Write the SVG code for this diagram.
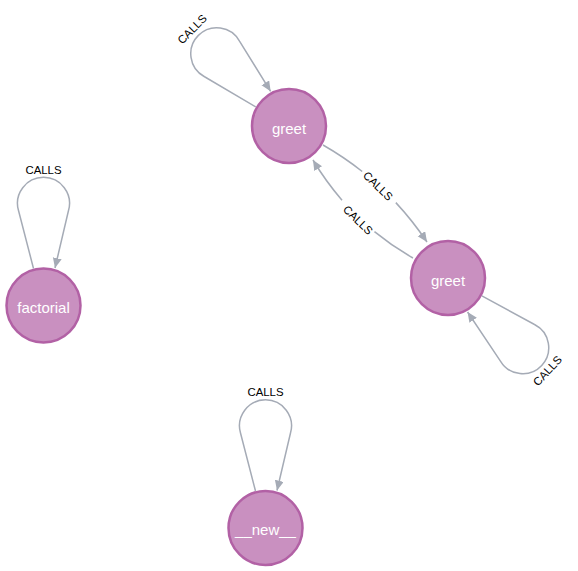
<svg xmlns="http://www.w3.org/2000/svg" width="578" height="571" viewBox="0 0 578 571">
  <defs>
    <marker id="arrow" markerUnits="userSpaceOnUse" markerWidth="12" markerHeight="10" refX="10" refY="4.5" orient="auto">
      <path d="M0,0 L10,4.5 L0,9 z" fill="#A5ABB6"/>
    </marker>
  </defs>
  <style>
    .edge { fill: none; stroke: #A5ABB6; stroke-width: 1.5; }
    .elabel { font-family: "Liberation Sans", Arial, sans-serif; font-size: 11.4px; fill: #000000; text-anchor: middle; }
    .node circle { fill: #C990C0; stroke: #B261A5; stroke-width: 2.5; }
    .node text { font-family: "Liberation Sans", Arial, sans-serif; font-size: 15px; fill: #FFFFFF; text-anchor: middle; }
  </style>
  <rect width="578" height="571" fill="#FFFFFF"/>
  <g id="connectors">
    <!-- greet1 self loop -->
    <g transform="translate(289,126) rotate(-45)">
      <path class="edge" d="M -10 -37 L -25 -95 A 26 26 0 1 1 25 -95 L 11.5 -37.5" marker-end="url(#arrow)"/>
      <text class="elabel" x="0" y="-133">CALLS</text>
    </g>
    <!-- greet2 self loop -->
    <g transform="translate(448,278) rotate(133)">
      <path class="edge" d="M -10 -37 L -25 -95 A 26 26 0 1 1 25 -95 L 11.5 -37.5" marker-end="url(#arrow)"/>
      <text class="elabel" x="0" y="-132" transform="rotate(180 0 -136)">CALLS</text>
    </g>
    <!-- factorial self loop -->
    <g transform="translate(43.5,305.5)">
      <path class="edge" d="M -10 -37 L -25 -95 A 26 26 0 1 1 25 -95 L 11.5 -37.5" marker-end="url(#arrow)"/>
      <text class="elabel" x="0" y="-132">CALLS</text>
    </g>
    <!-- __new__ self loop -->
    <g transform="translate(265.5,528)">
      <path class="edge" d="M -10 -37 L -25 -95 A 26 26 0 1 1 25 -95 L 11.5 -37.5" marker-end="url(#arrow)"/>
      <text class="elabel" x="0" y="-132">CALLS</text>
    </g>
    <!-- greet1 -> greet2 -->
    <path class="edge" d="M 323 145 Q 386 181 427 242" pathLength="100" stroke-dasharray="33 32 35" marker-end="url(#arrow)"/>
    <text class="elabel" x="378" y="190" transform="rotate(44 378 186)">CALLS</text>
    <!-- greet2 -> greet1 -->
    <path class="edge" d="M 413 258 Q 350 222 313 160" pathLength="100" stroke-dasharray="33 32 35" marker-end="url(#arrow)"/>
    <text class="elabel" x="358" y="224" transform="rotate(44 358 220)">CALLS</text>
  </g>
  <g id="node-greet1" class="node">
    <circle cx="289" cy="126" r="37"/>
    <text x="289" y="133.5">greet</text>
  </g>
  <g id="node-greet2" class="node">
    <circle cx="448" cy="278" r="37"/>
    <text x="448" y="285.5">greet</text>
  </g>
  <g id="node-factorial" class="node">
    <circle cx="43.5" cy="305.5" r="37"/>
    <text x="43.5" y="312.5">factorial</text>
  </g>
  <g id="node-new" class="node">
    <circle cx="265.5" cy="528" r="37"/>
    <text x="265.5" y="535">__new__</text>
  </g>
</svg>
